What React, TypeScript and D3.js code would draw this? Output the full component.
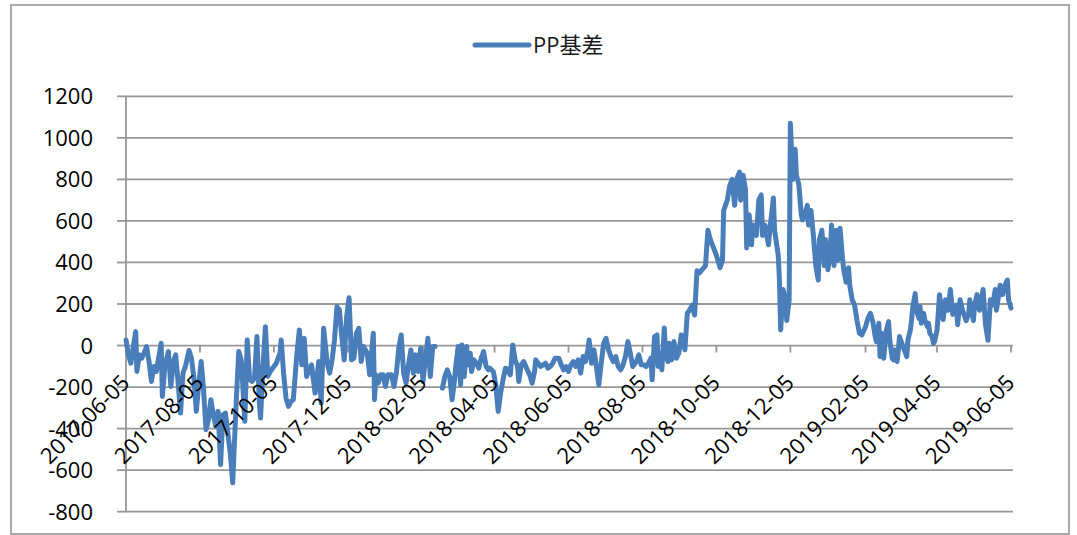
import React from "react";
import * as d3 from "d3";

const seriesName = "PP基差";
const yTickValues = [-800, -600, -400, -200, 0, 200, 400, 600, 800, 1000, 1200];
const xTickLabels = [
  "2017-06-05", "2017-08-05", "2017-10-05", "2017-12-05", "2018-02-05", "2018-04-05",
  "2018-06-05", "2018-08-05", "2018-10-05", "2018-12-05", "2019-02-05", "2019-04-05", "2019-06-05",
];

const basis: [string, number | null][] = [
  ["2017-06-05",27],["2017-06-07",-45],["2017-06-09",-85],["2017-06-11",-5],["2017-06-13",67],["2017-06-14",-125],["2017-06-16",-45],["2017-06-18",-61],["2017-06-21",-21],["2017-06-22",-5],["2017-06-24",-77],["2017-06-26",-173],["2017-06-28",-101],["2017-06-30",-125],["2017-07-04",11],["2017-07-05",-245],["2017-07-07",-101],["2017-07-10",-29],["2017-07-12",-197],["2017-07-14",-77],["2017-07-16",-45],["2017-07-18",-181],["2017-07-20",-325],["2017-07-22",-133],["2017-07-24",-101],["2017-07-27",-24],["2017-07-29",-61],["2017-07-31",-157],["2017-08-02",-317],["2017-08-04",-189],["2017-08-06",-77],["2017-08-08",-213],["2017-08-10",-405],["2017-08-12",-357],["2017-08-14",-261],["2017-08-16",-333],["2017-08-18",-389],["2017-08-20",-317],["2017-08-22",-573],["2017-08-24",-333],["2017-08-26",-325],["2017-08-28",-421],["2017-08-30",-517],["2017-09-01",-661],["2017-09-04",-261],["2017-09-06",-29],["2017-09-08",-69],["2017-09-09",-157],["2017-09-11",-365],["2017-09-13",27],["2017-09-15",-165],["2017-09-17",-173],["2017-09-19",-157],["2017-09-21",43],["2017-09-23",-277],["2017-09-24",-349],["2017-09-26",-101],["2017-09-28",91],["2017-09-30",-149],["2017-10-02",-125],["2017-10-05",-101],["2017-10-07",-85],["2017-10-10",-37],["2017-10-11",27],["2017-10-13",-133],["2017-10-15",-253],["2017-10-17",-293],["2017-10-19",-269],["2017-10-21",-261],["2017-10-24",-37],["2017-10-26",75],["2017-10-28",-93],["2017-10-30",35],["2017-11-01",-149],["2017-11-03",-117],["2017-11-05",-93],["2017-11-08",-229],["2017-11-11",-77],["2017-11-13",-277],["2017-11-15",83],["2017-11-18",-85],["2017-11-20",-133],["2017-11-22",-69],["2017-11-24",27],["2017-11-26",187],["2017-11-28",171],["2017-11-30",43],["2017-12-02",-69],["2017-12-04",139],["2017-12-06",230],["2017-12-08",-69],["2017-12-10",-61],["2017-12-12",59],["2017-12-14",83],["2017-12-16",-77],["2017-12-18",-5],["2017-12-21",-37],["2017-12-23",-141],["2017-12-26",59],["2017-12-27",-261],["2017-12-28",-141],["2017-12-30",-181],
  ["2018-01-01",-141],["2018-01-03",-141],["2018-01-05",-197],["2018-01-07",-141],["2018-01-10",-141],["2018-01-12",-197],["2018-01-14",-133],["2018-01-16",-13],["2018-01-18",51],["2018-01-20",-133],["2018-01-22",-181],["2018-01-24",-93],["2018-01-26",-21],["2018-01-28",-133],["2018-01-30",-45],["2018-02-01",-125],["2018-02-03",-13],["2018-02-05",-173],["2018-02-07",-61],["2018-02-09",35],["2018-02-11",-149],["2018-02-13",-5],["2018-02-15",-5],["2018-02-18",null],
  ["2018-02-21",-205],["2018-02-23",-149],["2018-02-25",-117],["2018-02-27",-149],["2018-03-01",-261],["2018-03-03",-165],["2018-03-04",-101],["2018-03-06",-5],["2018-03-08",-189],["2018-03-09",3],["2018-03-11",-149],["2018-03-13",-5],["2018-03-14",-93],["2018-03-16",-37],["2018-03-17",-125],["2018-03-19",-69],["2018-03-21",-85],["2018-03-23",-109],["2018-03-25",-61],["2018-03-27",-29],["2018-03-29",-101],["2018-03-31",-117],["2018-04-01",-109],["2018-04-04",-125],["2018-04-06",-189],["2018-04-08",-317],["2018-04-10",-229],["2018-04-12",-165],["2018-04-14",-109],["2018-04-16",-117],["2018-04-18",-141],["2018-04-20",3],["2018-04-22",-69],["2018-04-24",-101],["2018-04-25",-173],["2018-04-27",-93],["2018-04-29",-77],["2018-05-02",-117],["2018-05-04",-141],["2018-05-06",-181],["2018-05-08",-125],["2018-05-09",-69],["2018-05-11",-85],["2018-05-13",-101],["2018-05-15",-93],["2018-05-17",-85],["2018-05-19",-109],["2018-05-21",-101],["2018-05-23",-85],["2018-05-25",-61],["2018-05-28",-61],["2018-05-30",-93],["2018-06-01",-117],["2018-06-03",-101],["2018-06-05",-125],["2018-06-07",-93],["2018-06-09",-77],["2018-06-11",-101],["2018-06-13",-69],["2018-06-15",-133],["2018-06-17",-53],["2018-06-19",-77],["2018-06-21",-21],["2018-06-22",27],["2018-06-24",-85],["2018-06-26",-21],["2018-06-28",-101],["2018-06-30",-189],["2018-07-02",-85],["2018-07-04",11],["2018-07-06",35],["2018-07-08",-21],["2018-07-10",-53],["2018-07-12",-77],["2018-07-14",-53],["2018-07-16",-101],["2018-07-18",-117],["2018-07-20",-93],["2018-07-22",-53],["2018-07-24",19],["2018-07-26",-37],["2018-07-28",-101],["2018-07-31",-77],["2018-08-02",-45],["2018-08-04",-93],["2018-08-06",-93],["2018-08-08",-101],["2018-08-10",-85],["2018-08-12",-61],["2018-08-13",-165],["2018-08-15",43],["2018-08-17",51],["2018-08-18",-101],["2018-08-20",-37],["2018-08-21",-117],["2018-08-23",85],["2018-08-24",-37],["2018-08-26",-77],["2018-08-27",11],["2018-08-29",-69],["2018-08-31",19],["2018-09-02",-61],["2018-09-04",-37],["2018-09-06",51],["2018-09-07",43],["2018-09-09",-21],["2018-09-11",155],["2018-09-13",171],["2018-09-15",195],["2018-09-17",147],["2018-09-19",360],["2018-09-21",350],["2018-09-26",385],["2018-09-28",555],["2018-09-30",510],["2018-10-02",480],["2018-10-05",435],["2018-10-08",375],["2018-10-10",410],["2018-10-11",650],["2018-10-14",700],["2018-10-16",770],["2018-10-18",800],["2018-10-20",675],["2018-10-22",805],["2018-10-24",835],["2018-10-25",700],["2018-10-27",820],["2018-10-29",750],["2018-10-30",470],["2018-11-01",630],["2018-11-03",485],["2018-11-04",580],["2018-11-07",530],["2018-11-09",700],["2018-11-11",725],["2018-11-12",530],["2018-11-14",580],["2018-11-17",485],["2018-11-18",555],["2018-11-21",710],["2018-11-22",555],["2018-11-25",435],["2018-11-26",315],["2018-11-27",75],["2018-11-29",270],["2018-12-01",220],["2018-12-02",120],["2018-12-04",220],["2018-12-05",1070],["2018-12-07",800],["2018-12-09",945],["2018-12-10",820],["2018-12-12",775],["2018-12-14",630],["2018-12-15",605],["2018-12-17",630],["2018-12-19",675],["2018-12-20",580],["2018-12-22",650],["2018-12-24",530],["2018-12-26",385],["2018-12-28",315],["2018-12-29",510],["2018-12-31",555],
  ["2019-01-02",385],["2019-01-03",510],["2019-01-05",365],["2019-01-07",460],["2019-01-08",580],["2019-01-10",385],["2019-01-12",555],["2019-01-13",410],["2019-01-15",565],["2019-01-17",420],["2019-01-18",365],["2019-01-20",305],["2019-01-22",375],["2019-01-23",290],["2019-01-25",220],["2019-01-27",195],["2019-01-29",120],["2019-01-31",59],["2019-02-02",51],["2019-02-05",91],["2019-02-07",131],["2019-02-09",155],["2019-02-11",115],["2019-02-13",43],["2019-02-14",19],["2019-02-16",107],["2019-02-17",-53],["2019-02-18",59],["2019-02-20",-61],["2019-02-22",67],["2019-02-24",115],["2019-02-25",27],["2019-02-27",-61],["2019-02-28",-69],["2019-03-01",-21],["2019-03-03",-77],["2019-03-04",-29],["2019-03-05",43],["2019-03-07",11],["2019-03-08",-5],["2019-03-10",-37],["2019-03-11",-53],["2019-03-12",27],["2019-03-14",75],["2019-03-15",123],["2019-03-16",187],["2019-03-18",250],["2019-03-19",171],["2019-03-21",131],["2019-03-22",187],["2019-03-23",107],["2019-03-25",155],["2019-03-26",123],["2019-03-28",91],["2019-03-29",107],["2019-03-30",59],["2019-04-01",43],["2019-04-02",11],["2019-04-03",19],["2019-04-05",75],["2019-04-06",155],["2019-04-07",245],["2019-04-10",125],["2019-04-12",220],["2019-04-14",170],["2019-04-16",270],["2019-04-18",150],["2019-04-21",195],["2019-04-22",100],["2019-04-24",220],["2019-04-26",170],["2019-04-29",120],["2019-05-01",150],["2019-05-02",220],["2019-05-05",120],["2019-05-06",195],["2019-05-08",245],["2019-05-10",170],["2019-05-13",270],["2019-05-15",100],["2019-05-17",25],["2019-05-19",220],["2019-05-21",195],["2019-05-23",270],["2019-05-24",170],["2019-05-27",290],["2019-05-29",245],["2019-05-31",290],["2019-06-02",315],["2019-06-03",220],["2019-06-05",180],
];

const W = 1077;
const H = 535;
const FONT = "'Open Sans', 'Noto Sans CJK SC', sans-serif";
const LINE_COLOR = "#4a7ebb";
const GRID_COLOR = "#979797";

export default function App() {
  const parse = d3.timeParse("%Y-%m-%d");
  const x = d3
    .scaleTime()
    .domain([parse(xTickLabels[0])!, parse(xTickLabels[xTickLabels.length - 1])!])
    .range([126, 1011]);
  const y = d3.scaleLinear().domain([-800, 1200]).range([511.7, 96.3]);
  const gridRight = 1013;

  const pts = basis.map(([d, v]) => ({ d: parse(d)!, v }));
  const line = d3
    .line<{ d: Date; v: number | null }>()
    .defined((p) => p.v !== null)
    .x((p) => x(p.d))
    .y((p) => y(p.v as number));

  const y0 = y(0);

  return (
    <svg
      width={W}
      height={H}
      style={{ position: "absolute", left: 0, top: 0, background: "#fff" }}
      fontFamily={FONT}
    >
      <rect x={11} y={5} width={1058} height={529} fill="#fff" stroke="#a0a0a0" strokeWidth={1.8} />

      {/* legend */}
      <line x1={475} x2={529} y1={45} y2={45} stroke={LINE_COLOR} strokeWidth={5} strokeLinecap="round" />
      <text x={533} y={53} fontSize={22} fill="#1a1a1a">
        {seriesName}
      </text>

      {/* gridlines */}
      {yTickValues.map((t) => (
        <line key={"g" + t} x1={126} x2={gridRight} y1={y(t)} y2={y(t)} stroke={GRID_COLOR} strokeWidth={1.8} />
      ))}

      {/* y axis */}
      <line x1={126} x2={126} y1={y(1200)} y2={y(-800)} stroke={GRID_COLOR} strokeWidth={1.8} />
      {yTickValues.map((t) => (
        <g key={"yt" + t}>
          <line x1={117} x2={126} y1={y(t)} y2={y(t)} stroke={GRID_COLOR} strokeWidth={1.8} />
          <text x={93} y={y(t) + 8} textAnchor="end" fontSize={22} fill="#000">
            {t}
          </text>
        </g>
      ))}

      {/* x axis ticks at zero */}
      {xTickLabels.map((s) => {
        const xx = x(parse(s)!);
        return (
          <line key={"xt" + s} x1={xx} x2={xx} y1={y0} y2={y0 + 7} stroke={GRID_COLOR} strokeWidth={1.8} />
        );
      })}

      {/* series */}
      <path
        d={line(pts) || ""}
        fill="none"
        stroke={LINE_COLOR}
        strokeWidth={5}
        strokeLinejoin="round"
        strokeLinecap="round"
      />

      {/* x labels drawn over */}
      {xTickLabels.map((s) => {
        const xx = x(parse(s)!);
        return (
          <text
            key={"xl" + s}
            transform={`translate(${xx + 5},${384}) rotate(-45)`}
            textAnchor="end"
            fontSize={22}
            fill="#000"
          >
            {s}
          </text>
        );
      })}
    </svg>
  );
}
